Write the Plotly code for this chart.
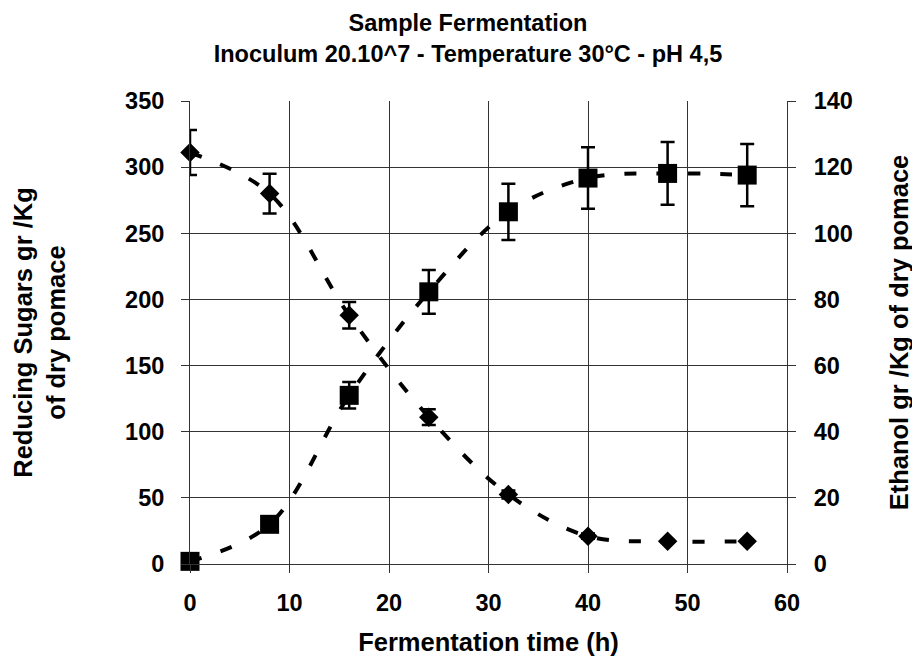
import plotly.graph_objects as go

time_h = [0, 8, 16, 24, 32, 40, 48, 56]
sugars = [311, 280, 188, 111, 52.5, 21, 17.2, 17.2]
sugars_err = [17, 15, 10, 6, 3, 2, 1, 1]
ethanol = [0.8, 12, 51, 82.3, 106.5, 116.7, 118.1, 117.6]
ethanol_err = [0.5, 1, 4, 6.6, 8.5, 9.3, 9.5, 9.4]

x_ticks = [0, 10, 20, 30, 40, 50, 60]
y1_ticks = [0, 50, 100, 150, 200, 250, 300, 350]
y2_ticks = [0, 20, 40, 60, 80, 100, 120, 140]

FONT = "Liberation Sans, Arial, sans-serif"
GRID = "#333333"

fig = go.Figure()

fig.add_trace(go.Scatter(
    x=time_h, y=sugars, name="Reducing Sugars",
    mode="lines+markers", line=dict(color="black", width=4, dash="12px,20px", shape="spline", smoothing=1),
    marker=dict(symbol="diamond", size=15, color="black"),
    error_y=dict(type="data", array=sugars_err, color="black", thickness=2.5, width=7),
    cliponaxis=False, yaxis="y",
))

fig.add_trace(go.Scatter(
    x=time_h, y=ethanol, name="Ethanol",
    mode="lines+markers", line=dict(color="black", width=4, dash="12px,20px", shape="spline", smoothing=1),
    marker=dict(symbol="square", size=19, color="black"),
    error_y=dict(type="data", array=ethanol_err, color="black", thickness=2.5, width=7),
    cliponaxis=False, yaxis="y2",
))

tickfont = dict(family=FONT, size=23.5, color="black", weight="bold")
titlefont = dict(family=FONT, size=25.5, color="black", weight="bold")

fig.update_layout(
    width=920, height=657,
    margin=dict(l=182, r=141, t=93, b=101, autoexpand=False),
    paper_bgcolor="white", plot_bgcolor="white",
    showlegend=False,
    font=dict(family=FONT, color="black"),
    title=dict(
        text="Sample Fermentation<br>Inoculum 20.10^7 - Temperature 30°C - pH 4,5",
        x=0.5, xref="container", xanchor="center",
        y=0.965, yref="container", yanchor="top",
        font=dict(family=FONT, size=23.5, color="black", weight="bold"),
    ),
    xaxis=dict(
        range=[0, 60], tickvals=x_ticks, ticktext=[str(v) for v in x_ticks],
        showgrid=True, gridcolor=GRID, gridwidth=1,
        ticks="outside", ticklen=8, tickcolor=GRID, tickwidth=1,
        showline=True, linecolor=GRID, linewidth=1, mirror=False,
        zeroline=False, tickfont=tickfont, ticklabelstandoff=10,
        title=dict(text="Fermentation time (h)", font=titlefont, standoff=17),
    ),
    yaxis=dict(
        range=[0, 350], tickvals=y1_ticks, ticktext=[str(v) for v in y1_ticks],
        showgrid=True, gridcolor=GRID, gridwidth=1,
        ticks="outside", ticklen=8, tickcolor=GRID, tickwidth=1,
        showline=True, linecolor=GRID, linewidth=1,
        zeroline=False, tickfont=tickfont, ticklabelstandoff=12,
        title=dict(text="Reducing Sugars gr /Kg<br>of dry pomace", font=titlefont, standoff=52),
    ),
    yaxis2=dict(
        range=[0, 140], tickvals=y2_ticks, ticktext=[str(v) for v in y2_ticks],
        overlaying="y", side="right", showgrid=False,
        ticks="outside", ticklen=8, tickcolor=GRID, tickwidth=1,
        showline=True, linecolor=GRID, linewidth=1,
        zeroline=False, tickfont=tickfont, ticklabelstandoff=13,
        title=dict(text="Ethanol gr /Kg of dry pomace", font=titlefont, standoff=38),
    ),
)

fig.write_html("out.html")
